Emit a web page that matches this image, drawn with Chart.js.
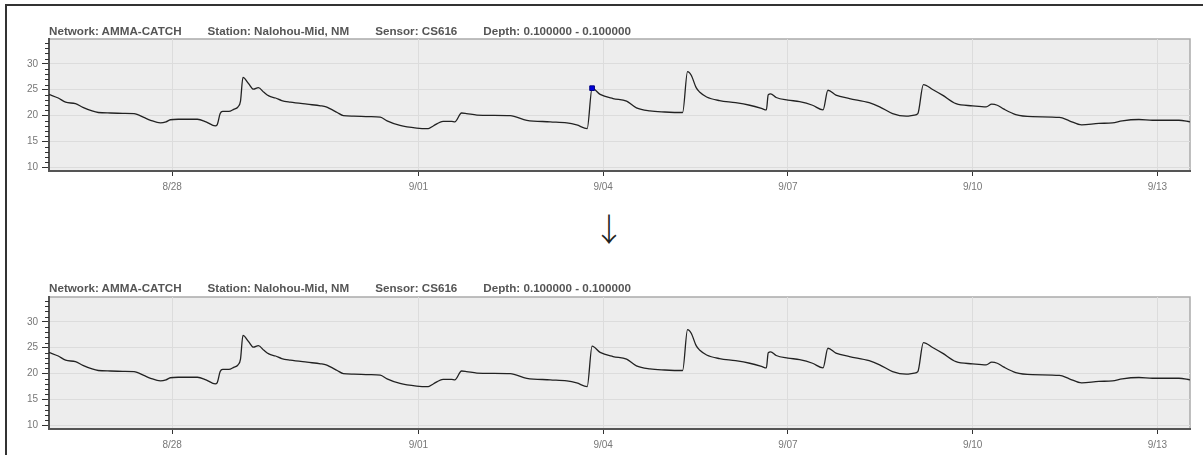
<!DOCTYPE html>
<html>
<head>
<meta charset="utf-8">
<script src="https://cdn.jsdelivr.net/npm/chart.js@4.4.1/dist/chart.umd.min.js"></script>
<style>
  html, body { margin: 0; padding: 0; background: #fff; width: 1203px; height: 455px; overflow: hidden; }
  .frame { position: absolute; left: 5px; top: 4px; width: 1300px; height: 600px; border-top: 2px solid #333; border-left: 2px solid #333; }
  .panel { position: absolute; left: 0; width: 1195px; height: 200px; }
  .head { position: absolute; left: 49px; top: 24px; display: flex; gap: 26px; white-space: nowrap;
          font: bold 11.65px "Liberation Sans", Arial, sans-serif; line-height: 13px; color: #555; }
  .arrow { position: absolute; left: 589px; top: 207px; width: 40px; text-align: center;
           font: 300 32px "Noto Sans CJK JP", sans-serif; line-height: 40px; color: #222; }
</style>
</head>
<body>
<div class="frame"></div>

<div class="panel" style="top:0">
  <div class="head"><span>Network: AMMA-CATCH</span><span>Station: Nalohou-Mid, NM</span><span>Sensor: CS616</span><span>Depth: 0.100000 - 0.100000</span></div>
  <canvas id="topChart"></canvas>
</div>

<div class="arrow">↓</div>

<div class="panel" style="top:258px">
  <div class="head" style="top:23px"><span>Network: AMMA-CATCH</span><span>Station: Nalohou-Mid, NM</span><span>Sensor: CS616</span><span>Depth: 0.100000 - 0.100000</span></div>
  <canvas id="bottomChart"></canvas>
</div>

<script>
// days since 8/26 00:00
var days = [0.00, 0.15, 0.27, 0.43, 0.55, 0.70, 0.80, 1.00, 1.20, 1.38, 1.43, 1.55, 1.65, 1.81, 1.90, 1.97,
  2.10, 2.41, 2.55, 2.70, 2.73, 2.78, 2.82, 2.92, 3.00, 3.07, 3.11, 3.15, 3.24, 3.32, 3.40, 3.49, 3.57, 3.68,
  3.78, 3.92, 4.19, 4.41, 4.50, 4.57, 4.68, 4.78, 4.95, 5.20, 5.38, 5.49, 5.70, 5.97, 6.16, 6.24, 6.40, 6.54,
  6.59, 6.70, 6.78, 6.95, 7.20, 7.49, 7.76, 8.14, 8.41, 8.57, 8.74, 8.82, 8.95, 9.16, 9.38, 9.54, 9.76, 10.00,
  10.29, 10.37, 10.43, 10.51, 10.57, 10.68, 10.89, 11.15, 11.38, 11.57, 11.65, 11.68, 11.72, 11.81, 12.00,
  12.19, 12.40, 12.57, 12.65, 12.78, 13.00, 13.32, 13.49, 13.70, 13.92, 14.05, 14.11, 14.20, 14.35, 14.51,
  14.73, 15.00, 15.22, 15.31, 15.40, 15.50, 15.70, 15.97, 16.41, 16.57, 16.77, 17.05, 17.27, 17.43, 17.70,
  17.92, 18.35, 18.53];
var soilValues = [24.1, 23.4, 22.6, 22.3, 21.6, 20.9, 20.6, 20.5, 20.45, 20.4, 20.25, 19.6, 19.1, 18.6, 18.8, 19.2,
  19.3, 19.3, 18.8, 18.0, 18.2, 20.4, 20.8, 20.8, 21.2, 21.7, 22.8, 27.4, 26.2, 25.1, 25.4, 24.5, 23.8, 23.4,
  22.9, 22.6, 22.2, 21.9, 21.7, 21.3, 20.6, 20.0, 19.9, 19.8, 19.7, 19.0, 18.1, 17.6, 17.5, 18.0, 18.9, 18.9,
  18.8, 20.5, 20.4, 20.1, 20.05, 20.0, 19.1, 18.8, 18.6, 18.2, 17.5, 25.3, 24.1, 23.3, 22.8, 21.5, 20.9, 20.7,
  20.6, 28.5, 27.8, 25.4, 24.5, 23.6, 22.9, 22.5, 22.0, 21.4, 21.1, 24.0, 24.2, 23.5, 23.0,
  22.7, 22.0, 21.1, 24.9, 23.95, 23.3, 22.5, 21.7, 20.4, 19.9, 20.1, 20.4, 26.0, 25.05, 23.95,
  22.3, 21.9, 21.7, 22.2, 22.0, 21.3, 20.2, 19.8, 19.65, 19.0, 18.2, 18.5, 18.6, 19.0, 19.25,
  19.1, 19.1, 18.8];

var tickDays = [2, 6, 9, 12, 15, 18];
var tickLabels = ['8/28', '9/01', '9/04', '9/07', '9/10', '9/13'];
var yMajorTicks = [10, 15, 20, 25, 30];
var yMinorTicks = [11, 12, 13, 14, 16, 17, 18, 19, 21, 22, 23, 24, 26, 27, 28, 29, 31, 32, 33, 34];
var highlightIndex = 63;   // the selected point (blue square) in the top plot

var points = days.map(function (d, i) { return { x: d, y: soilValues[i] }; });

var plotFrame = {
  id: 'plotFrame',
  beforeDraw: function (chart) {
    var a = chart.chartArea, c = chart.ctx;
    c.save();
    c.fillStyle = '#ededed';
    c.fillRect(a.left, a.top, a.right - a.left, a.bottom - a.top);
    c.strokeStyle = '#aaa';
    c.lineWidth = 1.5;
    c.strokeRect(a.left, a.top, a.right - a.left, a.bottom - a.top);
    c.restore();
  },
  afterDraw: function (chart) {
    var y = chart.scales.y, c = chart.ctx, left = chart.chartArea.left;
    c.save();
    c.strokeStyle = '#333';
    c.lineWidth = 1;
    yMinorTicks.forEach(function (v) {
      var py = Math.round(y.getPixelForValue(v)) + 0.5;
      c.beginPath();
      c.moveTo(left - 4, py);
      c.lineTo(left, py);
      c.stroke();
    });
    c.restore();
  }
};

function makeChart(id, showMarker) {
  var datasets = [{
    data: points,
    borderColor: '#222',
    borderWidth: 1.3,
    pointRadius: 0,
    cubicInterpolationMode: 'monotone',
    fill: false
  }];
  if (showMarker) {
    datasets.unshift({
      data: [points[highlightIndex]],
      pointStyle: 'rect',
      pointRadius: 3.3,
      backgroundColor: '#0000dd',
      borderColor: '#000080',
      borderWidth: 1,
      showLine: false
    });
  }
  return new Chart(document.getElementById(id), {
    type: 'line',
    data: { datasets: datasets },
    plugins: [plotFrame],
    options: {
      responsive: true,
      maintainAspectRatio: false,
      animation: false,
      events: [],
      layout: { padding: { top: 39, right: 5, left: 0, bottom: 0 } },
      plugins: { legend: { display: false }, tooltip: { enabled: false } },
      scales: {
        x: {
          type: 'linear',
          min: 0,
          max: 18.53,
          afterBuildTicks: function (s) { s.ticks = tickDays.map(function (v) { return { value: v }; }); },
          afterFit: function (s) { s.height = 29; },
          grid: { color: '#dcdcdc', tickColor: '#333', tickLength: 5, lineWidth: 1 },
          border: { color: '#555', width: 2 },
          ticks: {
            autoSkip: false, maxRotation: 0, padding: 5, color: '#777',
            font: { family: '"Liberation Sans", Arial, sans-serif', size: 10 },
            callback: function (v) { return tickLabels[tickDays.indexOf(v)]; }
          }
        },
        y: {
          min: 9.3,
          max: 34.8,
          afterBuildTicks: function (s) { s.ticks = yMajorTicks.map(function (v) { return { value: v }; }); },
          afterFit: function (s) { s.width = 49; },
          grid: { color: '#dcdcdc', tickColor: '#333', tickLength: 7, lineWidth: 1 },
          border: { color: '#555', width: 2 },
          ticks: {
            padding: 4, color: '#777',
            font: { family: '"Liberation Sans", Arial, sans-serif', size: 10 }
          }
        }
      }
    }
  });
}

makeChart('topChart', true);
makeChart('bottomChart', false);
</script>
</body>
</html>
